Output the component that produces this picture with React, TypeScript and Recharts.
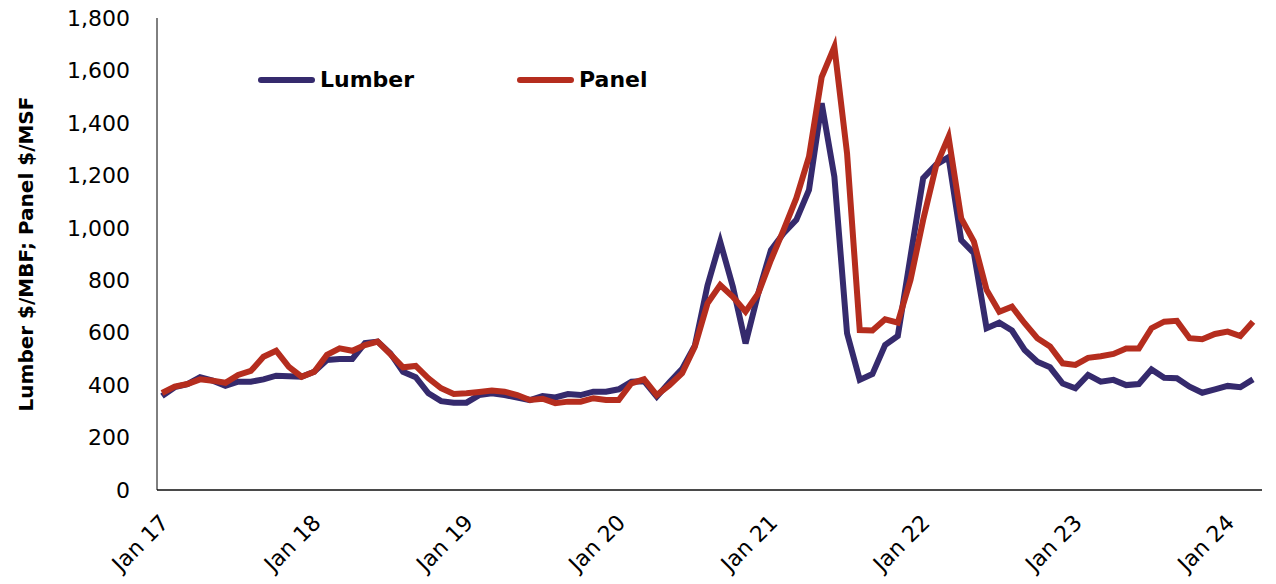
import React from 'react';
import { LineChart, Line, XAxis, YAxis, Legend } from 'recharts';

const monthNames = ['Jan', 'Feb', 'Mar', 'Apr', 'May', 'Jun', 'Jul', 'Aug', 'Sep', 'Oct', 'Nov', 'Dec'];
const yearLabels = ['17', '18', '19', '20', '21', '22', '23', '24'];

// Lumber $/MBF, monthly Jan 17 - Mar 24
const lumber = [
  358, 392, 404, 430, 417, 397, 413, 413, 422, 436, 434, 432,
  451, 496, 500, 500, 560, 566, 521, 451, 430, 369, 339, 333,
  333, 362, 369, 362, 353, 343, 358, 353, 366, 362, 375, 375,
  384, 413, 415, 356, 411, 462, 550, 780, 947, 775, 559, 750,
  915, 979, 1030, 1144, 1475, 1195, 598, 420, 442, 553, 587, 890,
  1189, 1240, 1269, 953, 903, 617, 638, 608, 534, 489, 468, 406,
  388, 439, 413, 420, 400, 404, 460, 428, 426, 394, 371, 384,
  397, 392, 422,
];

// Panel $/MSF
const panel = [
  370, 394, 404, 422, 417, 409, 439, 454, 508, 531, 470, 432,
  451, 515, 540, 531, 553, 566, 518, 468, 473, 426, 388, 366,
  369, 374, 379, 375, 362, 343, 348, 331, 337, 337, 350, 343,
  343, 407, 422, 362, 400, 445, 547, 712, 782, 737, 680, 750,
  877, 992, 1113, 1271, 1575, 1690, 1284, 610, 608, 651, 638, 801,
  1030, 1233, 1347, 1036, 947, 763, 680, 699, 636, 579, 547, 483,
  477, 504, 510, 519, 540, 540, 617, 642, 645, 579, 575, 595,
  604, 587, 642,
];

const yTicks = [0, 200, 400, 600, 800, 1000, 1200, 1400, 1600, 1800];

const categories = yearLabels
  .flatMap((y) => monthNames.map((m) => `${m} ${y}`))
  .slice(0, lumber.length);

const data = categories.map((month, i) => ({ month, lumber: lumber[i], panel: panel[i] }));

const FONT = '"DejaVu Sans", sans-serif';
const LUMBER = '#352a6d';
const PANEL = '#b52d1e';

const XTick = (props: any) => {
  const { x, y, payload } = props;
  const bx = x + 8;
  const by = y + 34;
  return (
    <text
      x={bx}
      y={by}
      transform={`rotate(-45 ${bx} ${by})`}
      textAnchor="end"
      fontFamily={FONT}
      fontSize={22}
      fill="#000"
    >
      {payload.value}
    </text>
  );
};

const YTitle = (props: any) => {
  const { viewBox } = props;
  const x = viewBox.x + 33;
  const y = viewBox.y + viewBox.height / 2;
  return (
    <text
      x={x}
      y={y}
      transform={`rotate(-90 ${x} ${y})`}
      textAnchor="middle"
      fontFamily={FONT}
      fontWeight="bold"
      fontSize={20}
      fill="#000"
    >
      Lumber $/MBF; Panel $/MSF
    </text>
  );
};

const renderLegend = (props: any) => {
  const { payload } = props;
  return (
    <div style={{ display: 'flex', fontFamily: FONT, fontWeight: 'bold', fontSize: 22, lineHeight: '26px' }}>
      {payload.map((entry: any) => (
        <div key={entry.value} style={{ display: 'flex', alignItems: 'center', width: 259 }}>
          <svg width={57} height={10} style={{ display: 'block' }}>
            <line x1={3} y1={5} x2={54} y2={5} stroke={entry.color} strokeWidth={6} strokeLinecap="round" />
          </svg>
          <span style={{ marginLeft: 5, color: '#000' }}>{entry.value}</span>
        </div>
      ))}
    </div>
  );
};

export default function App() {
  return (
    <div style={{ position: 'absolute', left: 0, top: 0, width: 1276, height: 584, background: '#fff' }}>
      <LineChart width={1276} height={584} data={data} margin={{ top: 18, right: 14, bottom: 0, left: 0 }}>
        <XAxis
          dataKey="month"
          interval={11}
          height={94}
          padding={{ left: 5, right: 9 }}
          tickLine={false}
          tickSize={0}
          tickMargin={0}
          axisLine={{ stroke: '#4a4a4a', strokeWidth: 2 }}
          tick={<XTick />}
        />
        <YAxis
          width={157}
          domain={[0, 1800]}
          ticks={yTicks}
          interval={0}
          tickLine={false}
          tickSize={0}
          tickMargin={27}
          axisLine={{ stroke: '#000', strokeWidth: 1 }}
          tick={{ fontFamily: FONT, fontSize: 22, fill: '#000' }}
          tickFormatter={(v: number) => v.toLocaleString('en-US')}
          label={<YTitle />}
        />
        <Legend
          layout="vertical"
          align="center"
          verticalAlign="middle"
          content={renderLegend}
          wrapperStyle={{ left: 258, top: 67, width: 600 }}
        />
        <Line
          name="Lumber"
          dataKey="lumber"
          stroke={LUMBER}
          strokeWidth={6}
          dot={false}
          activeDot={false}
          isAnimationActive={false}
        />
        <Line
          name="Panel"
          dataKey="panel"
          stroke={PANEL}
          strokeWidth={6}
          dot={false}
          activeDot={false}
          isAnimationActive={false}
        />
      </LineChart>
    </div>
  );
}
